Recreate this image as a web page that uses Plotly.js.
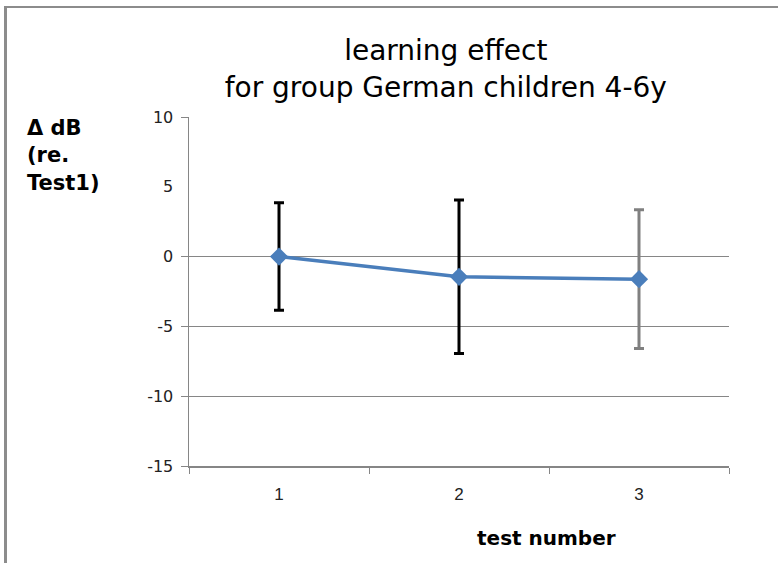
<!DOCTYPE html>
<html>
<head>
<meta charset="utf-8">
<script src="https://cdn.plot.ly/plotly-3.0.1.min.js"></script>
<style>
  html, body { margin: 0; padding: 0; background: #fff; }
  #wrap { position: relative; width: 778px; height: 563px; }
  #chart { position: absolute; left: 0; top: 0; width: 778px; height: 563px; }
  #frame { position: absolute; left: 4px; top: 6px; width: 790px; height: 600px;
           border-left: 3px solid #8c8c8c; border-top: 2px solid #8c8c8c; pointer-events: none; }
</style>
</head>
<body>
<div id="wrap"><div id="chart"></div><div id="frame"></div></div>
<script>
// Data
const testNumbers = ['1', '2', '3'];
const meanDelta = [0, -1.45, -1.62];
const errorHalf = [3.85, 5.5, 4.97];
const yTickValues = [-15, -10, -5, 0, 5, 10];
const yGridValues = [-15, -10, -5, 0, 10];

const titleText = 'learning effect<br>for group German children 4-6y';

const traces = [
  { // error bars for tests 1-2 (black)
    x: testNumbers.slice(0, 2), y: meanDelta.slice(0, 2),
    type: 'scatter', mode: 'markers', marker: { opacity: 0 },
    error_y: { type: 'data', array: errorHalf.slice(0, 2), visible: true,
               color: '#000000', thickness: 3, width: 5 },
    hoverinfo: 'skip', showlegend: false
  },
  { // error bar for test 3 (gray)
    x: testNumbers.slice(2), y: meanDelta.slice(2),
    type: 'scatter', mode: 'markers', marker: { opacity: 0 },
    error_y: { type: 'data', array: errorHalf.slice(2), visible: true,
               color: '#808080', thickness: 3, width: 5 },
    hoverinfo: 'skip', showlegend: false
  },
  { // grid helper on second y axis
    x: testNumbers, y: meanDelta, yaxis: 'y2', type: 'scatter', mode: 'markers',
    marker: { opacity: 0 }, hoverinfo: 'skip', showlegend: false
  },
  {
    x: testNumbers, y: meanDelta,
    type: 'scatter', mode: 'lines+markers',
    line: { color: '#4a7ebb', width: 3.5 },
    marker: { symbol: 'diamond', size: 14, color: '#4a7ebb' },
    showlegend: false
  }
];

const layout = {
  width: 778, height: 563,
  margin: { l: 189, r: 49, t: 117, b: 97 },
  paper_bgcolor: '#ffffff', plot_bgcolor: '#ffffff',
  showlegend: false,
  title: {
    text: titleText,
    font: { family: 'DejaVu Sans, sans-serif', size: 28, color: '#000000' },
    x: 0.573, xanchor: 'center', y: 0.893, yanchor: 'middle'
  },
  xaxis: {
    type: 'category',
    range: [-0.5, 2.5],
    tickson: 'boundaries',
    ticks: 'outside', ticklen: 6, tickcolor: '#868686', tickwidth: 1,
    showline: true, linecolor: '#868686', linewidth: 1.5,
    showgrid: false, zeroline: false,
    tickfont: { family: 'Liberation Sans, sans-serif', size: 17, color: '#222222' },
    ticklabelstandoff: 12
  },
  yaxis: {
    range: [-15, 10], tickvals: yTickValues, ticktext: yTickValues.map(String),
    ticks: '', showgrid: false, zeroline: false,
    showline: true, linecolor: '#868686', linewidth: 1.5,
    tickfont: { family: 'DejaVu Sans, sans-serif', size: 16, color: '#222222' },
    ticklabelstandoff: 11
  },
  yaxis2: {
    overlaying: 'y', side: 'left', range: [-15, 10], tickvals: yGridValues,
    showticklabels: false, ticks: 'outside', ticklen: 7, tickcolor: '#868686',
    showgrid: true, gridcolor: '#868686', gridwidth: 1.2, zeroline: false, showline: false
  },
  annotations: [
    { text: '<b>Δ dB<br>(re.<br>Test1)</b>', xref: 'paper', yref: 'paper',
      x: -0.304, y: 1.008, xanchor: 'left', yanchor: 'top', align: 'left', showarrow: false,
      font: { family: 'DejaVu Sans, sans-serif', size: 21, color: '#000000' } },
    { text: '<b>test number</b>', xref: 'paper', yref: 'paper',
      x: 0.662, y: -0.205, xanchor: 'center', yanchor: 'middle', showarrow: false,
      font: { family: 'DejaVu Sans, sans-serif', size: 20, color: '#000000' } }
  ]
};

Plotly.newPlot('chart', traces, layout, { displayModeBar: false, staticPlot: true });
</script>
</body>
</html>
